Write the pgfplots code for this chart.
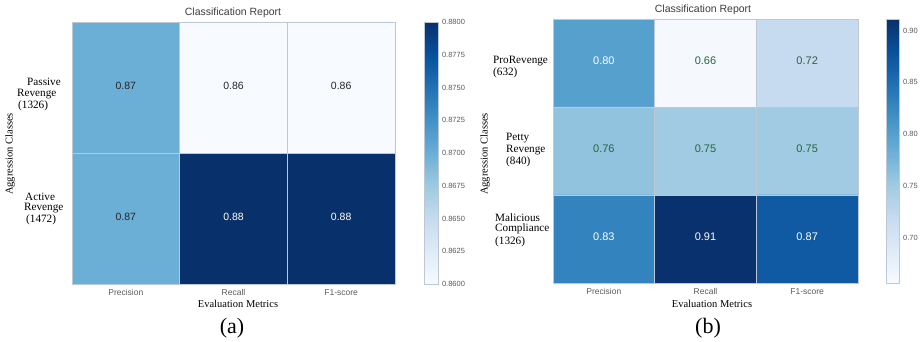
\documentclass[border=0pt]{standalone}
\usepackage{fontspec}
\setmainfont{Liberation Serif}
\setsansfont{Liberation Sans}
\usepackage{pgfplots}
\pgfplotsset{compat=1.18}
\definecolor{txtgreen}{RGB}{40,100,60}
\definecolor{ticktxt}{RGB}{90,90,90}
\definecolor{gridc}{RGB}{190,200,212}
\definecolor{titlec}{RGB}{60,60,60}
\pgfplotsset{
  colormap={blues}{rgb255=(247,251,255) rgb255=(222,235,247) rgb255=(198,219,239) rgb255=(158,202,225) rgb255=(107,174,214) rgb255=(66,146,198) rgb255=(33,113,181) rgb255=(8,81,156) rgb255=(8,48,107)},
  hm/.style={
    scale only axis, axis on top, colormap name=blues, y dir=reverse,
    anchor=south west, enlargelimits=false,
    xmin=-0.5, xmax=2.5,
    xtick={0,1,2}, xticklabels={Precision,Recall,F1-score},
    ytick=\empty, major tick length=0pt,
    axis line style={gridc},
    xticklabel style={font=\sffamily\fontsize{8.5}{10}\selectfont, text=ticktxt, yshift=-2pt},
    extra x ticks={0.5,1.5}, extra x tick labels={},
    extra x tick style={grid=major, major grid style={gridc, line width=0.6pt}},
    colorbar,
  },
  cbstyle/.style={
    at={(parent axis.north east)}, anchor=north west,
    axis line style={gridc}, major tick length=0pt,
    yticklabel style={font=\sffamily\fontsize{7.5}{8}\selectfont, text=ticktxt,
      /pgf/number format/assume math mode=true},
    scaled y ticks=false,
  },
}
\begin{document}
\begin{tikzpicture}
\useasboundingbox (0,0) rectangle (920pt,342pt);
% ---------------- (a)
\begin{axis}[hm, at={(72pt,58pt)}, width=323pt, height=262pt,
  ymin=-0.5, ymax=1.5,
  extra y ticks={0.5}, extra y tick labels={},
  extra y tick style={grid=major, major grid style={gridc, line width=0.6pt}},
  point meta min=0.86, point meta max=0.88,
  colorbar style={cbstyle, xshift=21pt, width=14pt,
    ytick={0.86,0.8625,0.865,0.8675,0.87,0.8725,0.875,0.8775,0.88},
    yticklabel style={/pgf/number format/.cd, fixed, fixed zerofill, precision=4}},
]
\addplot[matrix plot*, mesh/cols=3, point meta=explicit] table[meta=c] {
x y c
0 0 0.87
1 0 0.86
2 0 0.86
0 1 0.87
1 1 0.88
2 1 0.88
};
\addplot[only marks, mark=none, nodes near coords, point meta=explicit symbolic,
  nodes near coords style={anchor=center, yshift=2pt, font=\sffamily\fontsize{10.5}{12}\selectfont, text=black!85}]
  table[meta=t] {
x y t
0 0 0.87
1 0 0.86
2 0 0.86
0 1 0.87
};
\addplot[only marks, mark=none, nodes near coords, point meta=explicit symbolic,
  nodes near coords style={anchor=center, yshift=2pt, font=\sffamily\fontsize{10.5}{12}\selectfont, text=white}]
  table[meta=t] {
x y t
1 1 0.88
2 1 0.88
};
\end{axis}
% ---------------- (b)
\begin{axis}[hm, at={(553pt,59pt)}, width=305pt, height=264pt,
  ymin=-0.5, ymax=2.5,
  extra y ticks={0.5,1.5}, extra y tick labels={},
  extra y tick style={grid=major, major grid style={gridc, line width=0.6pt}},
  point meta min=0.657, point meta max=0.911,
  colorbar style={cbstyle, xshift=20pt, width=13pt,
    ytick={0.70,0.75,0.80,0.85,0.90},
    yticklabel style={/pgf/number format/.cd, fixed, fixed zerofill, precision=2}},
]
\addplot[matrix plot*, mesh/cols=3, point meta=explicit] table[meta=c] {
x y c
0 0 0.80
1 0 0.66
2 0 0.72
0 1 0.76
1 1 0.75
2 1 0.75
0 2 0.83
1 2 0.91
2 2 0.87
};
\addplot[only marks, mark=none, nodes near coords, point meta=explicit symbolic,
  nodes near coords style={anchor=center, yshift=2pt, font=\sffamily\fontsize{11}{13}\selectfont, text=txtgreen}]
  table[meta=t] {
x y t
1 0 0.66
2 0 0.72
0 1 0.76
1 1 0.75
2 1 0.75
};
\addplot[only marks, mark=none, nodes near coords, point meta=explicit symbolic,
  nodes near coords style={anchor=center, yshift=2pt, font=\sffamily\fontsize{11}{13}\selectfont, text=white}]
  table[meta=t] {
x y t
0 0 0.80
0 2 0.83
1 2 0.91
2 2 0.87
};
\end{axis}
% ---------------- texts
\tikzset{rl/.style={anchor=west, inner sep=0pt, font=\fontsize{11.2}{13}\selectfont}}
\node[font=\sffamily\fontsize{10.5}{12}\selectfont, text=titlec] at (233pt,329pt) {Classification Report};
\node[font=\sffamily\fontsize{10.5}{12}\selectfont, text=titlec] at (703pt,332pt) {Classification Report};
\node[font=\fontsize{10.5}{12}\selectfont] at (238pt,38pt) {Evaluation Metrics};
\node[font=\fontsize{10.5}{12}\selectfont] at (712pt,38pt) {Evaluation Metrics};
\node[font=\fontsize{22}{24}\selectfont] at (232pt,14pt) {(a)};
\node[font=\fontsize{22}{24}\selectfont] at (708pt,14pt) {(b)};
\node[rotate=90, font=\fontsize{10.5}{12}\selectfont] at (10pt,188pt) {Aggression Classes};
\node[rotate=90, font=\fontsize{10.5}{12}\selectfont] at (485pt,188pt) {Aggression Classes};
\node[rl] at (27pt,260pt) {Passive};
\node[rl] at (17pt,248pt) {Revenge};
\node[rl] at (18pt,236pt) {(1326)};
\node[rl] at (25pt,145pt) {Active};
\node[rl] at (24pt,134pt) {Revenge};
\node[rl] at (26pt,122pt) {(1472)};
\node[rl] at (493pt,281pt) {ProRevenge};
\node[rl] at (493pt,269pt) {(632)};
\node[rl] at (506pt,204pt) {Petty};
\node[rl] at (506pt,192pt) {Revenge};
\node[rl] at (506pt,180pt) {(840)};
\node[rl] at (495pt,124pt) {Malicious};
\node[rl] at (495pt,113pt) {Compliance};
\node[rl] at (495pt,100pt) {(1326)};
\end{tikzpicture}
\end{document}
